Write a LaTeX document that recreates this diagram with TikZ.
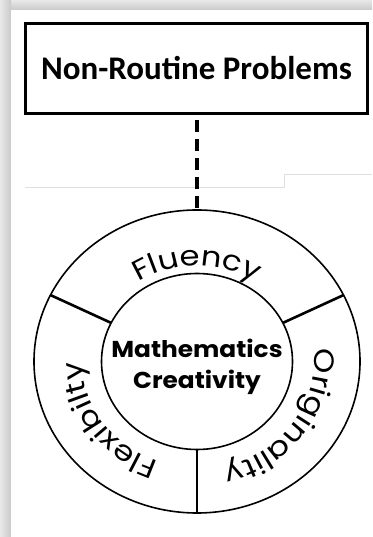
\documentclass[tikz,border=0pt]{standalone}
\usepackage{fontspec}
\setmainfont{Carlito}
\newfontfamily\ringfont{Poppins}[FakeStretch=1.15]
\newfontfamily\corefont{Poppins}[FakeStretch=1.08]
\usetikzlibrary{shapes.geometric,decorations.text,calc}
\newcommand\ringtext{\ringfont\fontsize{28pt}{28pt}\selectfont}

\begin{document}
\begin{tikzpicture}[x=1pt,y=1pt,
  titlebox/.style={draw, line width=2.6pt, minimum width=342pt, minimum height=90pt,
    inner sep=0pt, outer sep=0pt, font=\bfseries\fontsize{33pt}{33pt}\selectfont},
  ringline/.style={draw, ellipse, line width=1.6pt, inner sep=0pt, outer sep=0pt},
  divider/.style={line width=2.6pt},
  link/.style={line width=4pt, dash pattern=on 12pt off 7pt, dash phase=12pt},
  guide/.style={gray!25, line width=0.8pt},
  ringlabel/.style={decorate, decoration={text along path, text align=center,
    text={|\ringtext|#1}}}
]
\useasboundingbox (0,0) rectangle (372,537);

% soft frame shadow on the top and left
\shade[top color=gray!18, bottom color=gray!42] (0,527) rectangle (372,537);
\shade[left color=gray!18, right color=gray!42] (0,0) rectangle (11,537);
\fill[white] (11,0) rectangle (372,527);

% faint guide lines
\draw[guide] (25,350) -- (284,350) -- (284,363) -- (372,363);

% heading box
\node[titlebox] (prob) at (196.5,468.5) {Non-Routine Problems};

% rings
\coordinate (c) at (197,175.5);
\node[ringline, minimum width=326pt, minimum height=303pt] (outer) at (c) {};
\node[ringline, minimum width=191pt, minimum height=176pt] (inner) at (c) {};

% link from the heading to the rings
\draw[link] (prob.south) -- (prob.south |- outer.north);

% sector dividers
\foreach \a in {26,154,270}
  \draw[divider] ($(c)+(\a:95.5pt and 88pt)$) -- ($(c)+(\a:163pt and 151.5pt)$);

% sector labels
\path[ringlabel=Fluency] ($(c)+(180:105pt and 96pt)$)
  arc[start angle=180, end angle=0, x radius=105pt, y radius=96pt];
\path[ringlabel=Originality] ($(c)+(56:117pt and 108pt)$)
  arc[start angle=56, end angle=-124, x radius=117pt, y radius=108pt];
\path[ringlabel=Flexibilty] ($(c)+(304:115pt and 106pt)$)
  arc[start angle=304, end angle=124, x radius=115pt, y radius=106pt];

% centre
\node[align=center, font=\corefont\bfseries\fontsize{23pt}{31pt}\selectfont] (core) at (197,170) {Mathematics\\Creativity};
\end{tikzpicture}
\end{document}
